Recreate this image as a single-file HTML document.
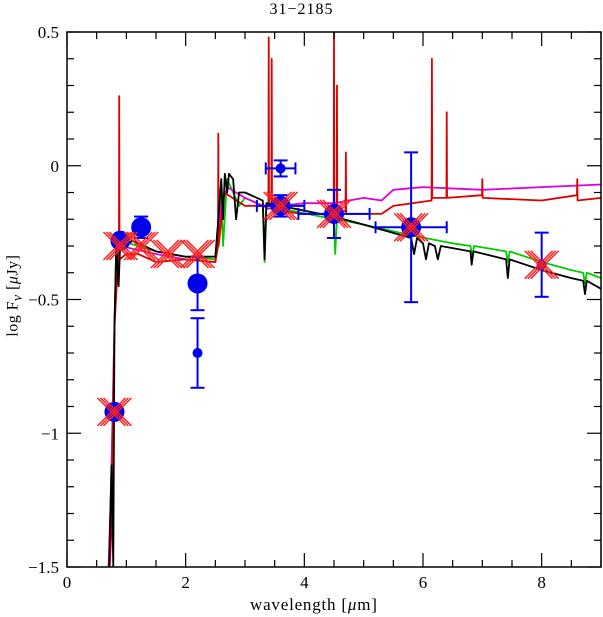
<!DOCTYPE html>
<html><head><meta charset="utf-8"><style>
body{margin:0;background:#fff}
svg{display:block;font-family:"Liberation Serif",serif}
</style></head><body>
<svg id="c" width="603" height="617"></svg>
<script>
const xTicks=[0,2,4,6,8];
const yTicks=[0.5,0,-0.5,-1,-1.5];
const blackModel=[[0.7,-1.6],[0.75,-1.12],[0.78,-1.5],[0.8,-0.6],[0.83,-0.3],[0.87,-0.45],[0.9,-0.27],[1.0,-0.3],[1.1,-0.28],[1.2,-0.29],[1.5,-0.32],[2.0,-0.34],[2.5,-0.34],[2.55,-0.2],[2.6,-0.05],[2.63,-0.2],[2.66,-0.03],[2.7,-0.1],[2.73,-0.03],[2.8,-0.05],[2.85,-0.2],[2.9,-0.1],[3.0,-0.1],[3.3,-0.13],[3.33,-0.35],[3.36,-0.14],[3.6,-0.15],[4.5,-0.19],[5.0,-0.22],[5.8,-0.27],[5.85,-0.33],[5.9,-0.27],[6.0,-0.29],[6.05,-0.35],[6.1,-0.29],[6.2,-0.3],[6.25,-0.35],[6.3,-0.3],[6.8,-0.32],[6.82,-0.37],[6.85,-0.32],[7.4,-0.35],[7.43,-0.42],[7.46,-0.35],[8.0,-0.39],[8.5,-0.42],[8.7,-0.43],[8.73,-0.48],[8.76,-0.43],[9.0,-0.46]];
const greenModel=[[0.7,-1.6],[0.75,-1.12],[0.8,-0.6],[0.83,-0.3],[0.9,-0.28],[1.5,-0.32],[2.0,-0.34],[2.5,-0.35],[2.55,-0.3],[2.6,-0.1],[2.63,-0.3],[2.7,-0.05],[2.9,-0.15],[3.0,-0.12],[3.3,-0.15],[3.33,-0.36],[3.36,-0.16],[3.6,-0.16],[4.5,-0.2],[4.52,-0.33],[4.55,-0.2],[5.0,-0.22],[5.8,-0.26],[6.5,-0.29],[6.8,-0.3],[6.83,-0.34],[6.86,-0.3],[7.4,-0.32],[7.43,-0.36],[7.46,-0.32],[8.0,-0.36],[8.5,-0.39],[8.7,-0.4],[8.73,-0.44],[8.76,-0.4],[9.0,-0.42]];
const magentaModel=[[0.7,-1.5],[0.75,-1.15],[0.8,-0.6],[0.83,-0.35],[0.9,-0.3],[1.5,-0.33],[2.0,-0.35],[2.5,-0.36],[2.6,-0.15],[2.7,-0.08],[3.0,-0.12],[3.4,-0.16],[3.6,-0.15],[4.0,-0.14],[4.5,-0.14],[5.0,-0.12],[5.3,-0.13],[5.5,-0.09],[6.0,-0.08],[7.0,-0.09],[8.0,-0.08],[9.0,-0.07]];
const redModel=[[0.7,-1.6],[0.75,-1.35],[0.8,-0.6],[0.85,-0.4],[0.875,-0.35],[0.88,0.26],[0.885,-0.35],[1.0,-0.33],[1.2,-0.33],[1.5,-0.36],[2.0,-0.35],[2.5,-0.36],[2.545,-0.3],[2.55,0.12],[2.555,-0.3],[2.65,-0.1],[3.0,-0.15],[3.395,-0.15],[3.4,0.48],[3.405,-0.15],[3.445,-0.15],[3.45,0.4],[3.455,-0.16],[3.6,-0.17],[4.0,-0.18],[4.495,-0.18],[4.5,0.5],[4.505,-0.18],[4.545,-0.18],[4.55,0.3],[4.555,-0.17],[4.695,-0.17],[4.7,0.05],[4.705,-0.18],[5.0,-0.18],[5.3,-0.18],[5.5,-0.15],[6.145,-0.13],[6.15,0.4],[6.155,-0.12],[6.395,-0.12],[6.4,0.2],[6.405,-0.12],[6.995,-0.11],[7.0,-0.05],[7.005,-0.12],[8.0,-0.13],[8.595,-0.11],[8.6,-0.05],[8.605,-0.13],[9.0,-0.12]];
const bigWave=[0.8,0.9,1.25,2.2,3.6,4.5,5.8];
const bigFlux=[-0.92,-0.28,-0.23,-0.44,-0.15,-0.18,-0.23];
const bigYErr=[0.02,0.02,0.04,0.1,0.04,0.09,0.28];
const bigXErr=[0,0,0,0,0.4,0.6,0.6];
const smallWave=[2.2,3.6,8.0];
const smallFlux=[-0.7,-0.01,-0.37];
const smallYErr=[0.13,0.03,0.12];
const smallXErr=[0,0.25,0];
const crossWave=[0.8,0.9,1.25,1.7,2.2,3.6,4.5,5.8,8.0];
const crossFlux=[-0.92,-0.3,-0.3,-0.33,-0.33,-0.15,-0.18,-0.23,-0.37];

const L=67,R=601,T=32,B=567;
const X=w=>L+w*(R-L)/9;
const Y=v=>T+(0.5-v)*(B-T)/2;
const svg=document.getElementById('c');
const NS='http://www.w3.org/2000/svg';
function mk(t,a,p){const e=document.createElementNS(NS,t);for(const k in a)e.setAttribute(k,a[k]);(p||svg).appendChild(e);return e;}
const clip=mk('clipPath',{id:'cp'});mk('rect',{x:L,y:T,width:R-L,height:B-T},clip);
const g=mk('g',{'clip-path':'url(#cp)'});
function line(data,col,name){const p=mk('polyline',{points:data.map(d=>X(d[0])+','+Y(d[1])).join(' '),fill:'none',stroke:col,'stroke-width':1.8,'stroke-linejoin':'round'},g);

}
line(greenModel,'#00cc00','green-model');
line(magentaModel,'#dd00dd','magenta-model');
line(redModel,'#dd0000','red-model');
line(blackModel,'#000','black-model');
function errs(ws,fs,ye,xe,r,name){for(let i=0;i<ws.length;i++){const x=X(ws[i]),y=Y(fs[i]);const gg=mk('g',{stroke:'#0000ee','stroke-width':2},g);


if(ye[i]>0){const y1=Y(fs[i]+ye[i]),y2=Y(fs[i]-ye[i]);mk('line',{x1:x,x2:x,y1:y1,y2:y2},gg);mk('line',{x1:x-7,x2:x+7,y1:y1,y2:y1},gg);mk('line',{x1:x-7,x2:x+7,y1:y2,y2:y2},gg);}
if(xe[i]>0){const x1=X(ws[i]-xe[i]),x2=X(ws[i]+xe[i]);mk('line',{x1:x1,x2:x2,y1:y,y2:y},gg);mk('line',{x1:x1,x2:x1,y1:y-6,y2:y+6},gg);mk('line',{x1:x2,x2:x2,y1:y-6,y2:y+6},gg);}
mk('circle',{cx:x,cy:y,r:r,fill:'#0000ee',stroke:'none'},gg);}}
errs(bigWave,bigFlux,bigYErr,bigXErr,10,'photometry-point');
errs(smallWave,smallFlux,smallYErr,smallXErr,5,'photometry-small-point');
for(let i=0;i<crossWave.length;i++){const x=X(crossWave[i]),y=Y(crossFlux[i]);const gg=mk('g',{stroke:'#ff2020','stroke-width':1.5},g);


for(const o of [-3,0,3]){mk('line',{x1:x-14+o,y1:y-14,x2:x+14+o,y2:y+14},gg);mk('line',{x1:x-14+o,y1:y+14,x2:x+14+o,y2:y-14},gg);}}
const fr=mk('rect',{x:L,y:T,width:R-L,height:B-T,fill:'none',stroke:'#000','stroke-width':1.5});


for(let w=0;w<=9;w+=0.5){const big=w%2===0,len=big?14:7;mk('line',{x1:X(w),x2:X(w),y1:B,y2:B-len,stroke:'#000','stroke-width':1.2});mk('line',{x1:X(w),x2:X(w),y1:T,y2:T+len,stroke:'#000','stroke-width':1.2});}
for(let v=-1.5;v<=0.5001;v+=0.1){const big=Math.abs(v*2-Math.round(v*2))<1e-6,len=big?14:7;mk('line',{x1:L,x2:L+len,y1:Y(v),y2:Y(v),stroke:'#000','stroke-width':1.2});mk('line',{x1:R,x2:R-len,y1:Y(v),y2:Y(v),stroke:'#000','stroke-width':1.2});}
xTicks.forEach(t=>{const e=mk('text',{x:X(t),y:B+21,'text-anchor':'middle','font-size':17});e.textContent=t;

});
yTicks.forEach(t=>{const e=mk('text',{x:L-8,y:Y(t)+6,'text-anchor':'end','font-size':17});e.textContent=t<0?'\u2212'+Math.abs(t):t;

});
</script>
<div style="position:absolute;left:0;top:1px;width:603px;text-align:center;font:16px 'Liberation Serif',serif;letter-spacing:1px">31−2185</div>
<div style="position:absolute;left:250px;top:595px;font:17px 'Liberation Serif',serif;letter-spacing:0.8px">wavelength [<i>μ</i>m]</div>
<div style="position:absolute;left:-50px;top:285px;width:130px;text-align:center;transform:rotate(-90deg);font:16px 'Liberation Serif',serif;letter-spacing:0.5px">log F<sub><i>ν</i></sub> [<i>μ</i>Jy]</div>
</body></html>
